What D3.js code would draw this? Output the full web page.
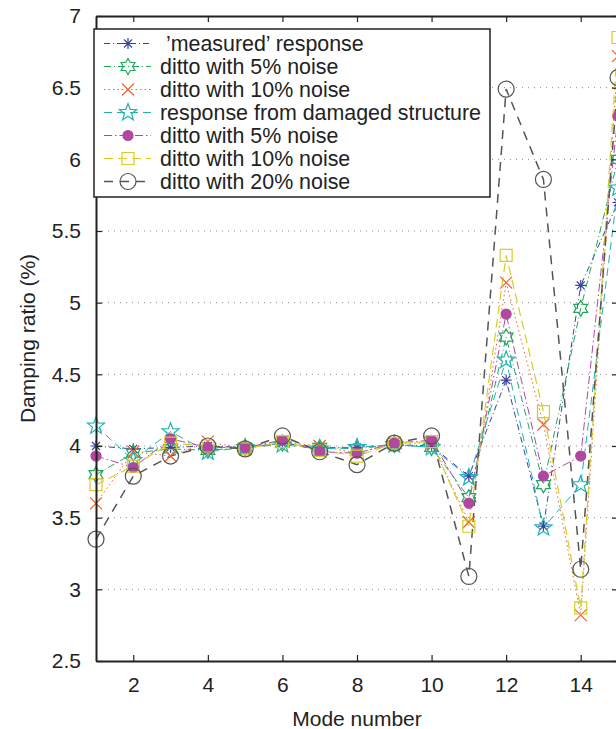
<!DOCTYPE html>
<html>
<head>
<meta charset="utf-8">
<script src="https://cdn.jsdelivr.net/npm/d3@7"></script>
<style>
  body { margin: 0; background: #fff; }
  text { font-family: "Liberation Sans", Arial, sans-serif; fill: #222; }
</style>
</head>
<body>
<svg id="chart" width="616" height="729"></svg>
<script>
// mode numbers and damping ratios (%)
const modes = [1, 2, 3, 4, 5, 6, 7, 8, 9, 10, 11, 12, 13, 14, 15];
const measured  = [4.00, 3.98, 3.99, 4.00, 3.99, 4.02, 3.99, 3.99, 4.01, 4.00, 3.79, 4.46, 3.44, 5.12, 5.70];
const noise5    = [3.80, 3.95, 3.98, 3.97, 3.99, 4.02, 3.99, 3.98, 4.01, 3.99, 3.64, 4.76, 3.73, 4.96, 6.00];
const noise10   = [3.60, 3.96, 3.93, 4.03, 3.98, 4.03, 4.00, 3.95, 4.02, 4.02, 3.47, 5.14, 4.15, 2.82, 6.72];
const damaged   = [4.14, 3.90, 4.10, 3.96, 3.99, 4.01, 3.98, 3.99, 4.01, 3.99, 3.78, 4.60, 3.43, 3.73, 5.80];
const damaged5  = [3.93, 3.85, 4.05, 3.99, 3.99, 4.04, 3.96, 3.95, 4.02, 4.04, 3.60, 4.92, 3.79, 3.93, 6.30];
const damaged10 = [3.73, 3.86, 4.02, 4.00, 3.98, 4.03, 3.97, 3.93, 4.02, 4.03, 3.44, 5.33, 4.24, 2.87, 6.85];
const damaged20 = [3.35, 3.79, 3.93, 4.00, 3.98, 4.07, 3.96, 3.87, 4.02, 4.07, 3.09, 6.49, 5.86, 3.14, 6.57];

const yTicks = [2.5, 3, 3.5, 4, 4.5, 5, 5.5, 6, 6.5, 7];
const xTicks = [2, 4, 6, 8, 10, 12, 14];

const seriesNames = ["\u00a0\u2019measured\u2019 response", "ditto with 5% noise", "ditto with 10% noise",
  "response from damaged structure", "ditto with 5% noise", "ditto with 10% noise", "ditto with 20% noise"];

// marker paths
function asterisk(r) {
  const d = r * 0.72;
  return `M${-r},0L${r},0M0,${-r}L0,${r}M${-d},${-d}L${d},${d}M${-d},${d}L${d},${-d}`;
}
function starPath(n, R, ratio) {
  const pts = [];
  for (let i = 0; i < 2 * n; i++) {
    const a = -Math.PI / 2 + i * Math.PI / n;
    const rr = i % 2 === 0 ? R : R * ratio;
    pts.push([rr * Math.cos(a), rr * Math.sin(a)]);
  }
  return "M" + pts.map(p => p[0].toFixed(2) + "," + p[1].toFixed(2)).join("L") + "Z";
}
function cross(r) { return `M${-r},${-r}L${r},${r}M${-r},${r}L${r},${-r}`; }
function square(r) { return `M${-r},${-r}H${r}V${r}H${-r}Z`; }
function circle(r) { return `M${r},0A${r},${r} 0 1 1 ${-r},0A${r},${r} 0 1 1 ${r},0Z`; }

const series = [
  { name: seriesNames[0], values: measured,  color: "#3a43a0", dash: "6,3,1,3", width: 1,   marker: asterisk(5.5), fill: "none" },
  { name: seriesNames[1], values: noise5,    color: "#1ea85a", dash: "7,3,1,3", width: 1,   marker: starPath(6, 8, 0.577), fill: "none" },
  { name: seriesNames[2], values: noise10,   color: "#f2622e", dash: "1.5,3",   width: 1,   marker: cross(6), fill: "none" },
  { name: seriesNames[3], values: damaged,   color: "#1eb3b6", dash: "8,5",     width: 1,   marker: starPath(5, 9, 0.42), fill: "none" },
  { name: seriesNames[4], values: damaged5,  color: "#b0489f", dash: "8,3,1.5,3", width: 1, marker: circle(5), fill: "#b0489f" },
  { name: seriesNames[5], values: damaged10, color: "#d6cd26", dash: "9,5",     width: 1.2, marker: square(6), fill: "none" },
  { name: seriesNames[6], values: damaged20, color: "#555555", dash: "9,7",     width: 1.5, marker: circle(8), fill: "none" }
];

const svg = d3.select("#chart");
svg.append("rect").attr("width", 616).attr("height", 729).attr("fill", "#fff");

const plotLeft = 96, plotRight = 618, plotTop = 16, plotBottom = 661;
const x = d3.scaleLinear().domain([1, 15]).range([plotLeft, plotRight]);
const y = d3.scaleLinear().domain([2.5, 7]).range([plotBottom, plotTop]);

// dotted horizontal grid
svg.append("g").selectAll("line")
  .data(yTicks.filter(t => t > 2.5 && t < 7))
  .enter().append("line")
  .attr("x1", plotLeft).attr("x2", plotRight)
  .attr("y1", d => y(d)).attr("y2", d => y(d))
  .attr("stroke", "#8a8a8a").attr("stroke-width", 1)
  .attr("stroke-dasharray", "1,5");

// data lines
const line = d3.line().x((d, i) => x(modes[i])).y(d => y(d));
series.forEach(s => {
  svg.append("path")
    .attr("d", line(s.values))
    .attr("fill", "none")
    .attr("stroke", s.color)
    .attr("stroke-width", s.width)
    .attr("stroke-dasharray", s.dash);
});
series.forEach(s => {
  svg.append("g").selectAll("path")
    .data(s.values)
    .enter().append("path")
    .attr("d", s.marker)
    .attr("transform", (d, i) => `translate(${x(modes[i])},${y(d)})`)
    .attr("fill", s.fill)
    .attr("stroke", s.color)
    .attr("stroke-width", 1.2);
});

// axes
const axisColor = "#222";
const gL = svg.append("g").attr("transform", `translate(${plotLeft},0)`)
  .call(d3.axisLeft(y).tickValues(yTicks).tickFormat(d3.format("")).tickSizeInner(-6).tickSizeOuter(0).tickPadding(15));
const gB = svg.append("g").attr("transform", `translate(0,${plotBottom})`)
  .call(d3.axisBottom(x).tickValues(xTicks).tickSizeInner(-6).tickSizeOuter(0).tickPadding(16));
const gT = svg.append("g").attr("transform", `translate(0,${plotTop})`)
  .call(d3.axisTop(x).tickValues(xTicks).tickFormat("").tickSizeInner(-6).tickSizeOuter(0));
const gR = svg.append("g").attr("transform", `translate(${plotRight},0)`)
  .call(d3.axisRight(y).tickValues(yTicks).tickFormat("").tickSizeInner(-6).tickSizeOuter(0));
[gL, gB, gT, gR].forEach(g => {
  g.select(".domain").attr("stroke", axisColor).attr("stroke-width", 2);
  g.selectAll(".tick line").attr("stroke", axisColor).attr("stroke-width", 1.2);
  g.selectAll("text").attr("font-size", 21).attr("font-family", "Liberation Sans, Arial, sans-serif").attr("fill", "#222");
});

// axis titles
svg.append("text")
  .attr("x", (plotLeft + plotRight) / 2).attr("y", 726)
  .attr("text-anchor", "middle").attr("font-size", 21)
  .text("Mode number");
svg.append("text")
  .attr("transform", `translate(35,${(plotTop + plotBottom) / 2}) rotate(-90)`)
  .attr("text-anchor", "middle").attr("font-size", 21)
  .text("Damping ratio (%)");

// legend
const lg = svg.append("g");
lg.append("rect")
  .attr("x", 94).attr("y", 29).attr("width", 396).attr("height", 168)
  .attr("fill", "#fff").attr("stroke", "#222").attr("stroke-width", 1.5);
series.forEach((s, i) => {
  const cy = 43.5 + i * 23;
  lg.append("line")
    .attr("x1", 104).attr("x2", 151).attr("y1", cy).attr("y2", cy)
    .attr("stroke", s.color).attr("stroke-width", s.width)
    .attr("stroke-dasharray", s.dash);
  lg.append("path")
    .attr("d", s.marker)
    .attr("transform", `translate(128,${cy})`)
    .attr("fill", s.fill).attr("stroke", s.color).attr("stroke-width", 1.2);
  lg.append("text")
    .attr("x", 160).attr("y", cy + 7.5)
    .attr("font-size", 21.4)
    .style("white-space", "pre")
    .text(s.name);
});
</script>
</body>
</html>
